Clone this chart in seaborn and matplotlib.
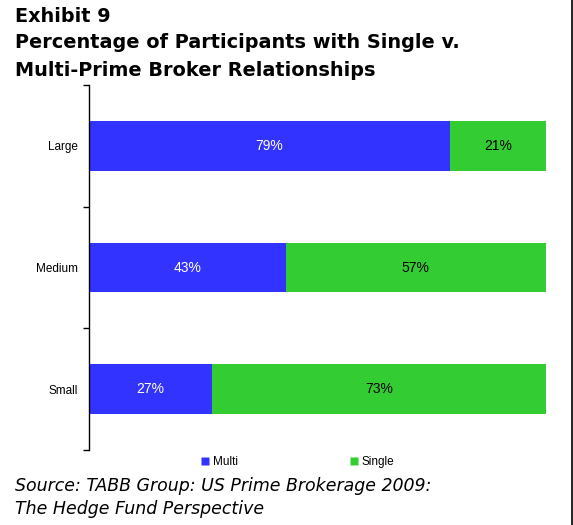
import matplotlib
matplotlib.use("Agg")
import matplotlib.pyplot as plt
from matplotlib.lines import Line2D
from matplotlib.ticker import FixedLocator
import seaborn as sns
import pandas as pd

categories = ["Large", "Medium", "Small"]
multi = [79, 43, 27]
single = [21, 57, 73]

sns.set_theme(style="white")
plt.rcParams["font.family"] = ["DejaVu Sans"]
plt.rcParams["text.color"] = "black"
plt.rcParams["ytick.labelcolor"] = "black"
plt.rcParams["ytick.color"] = "black"

BLUE = "#3333FF"
GREEN = "#33CC33"

df = pd.DataFrame({"cat": categories, "multi": multi,
                   "total": [m + s for m, s in zip(multi, single)]})

fig = plt.figure(figsize=(5.73, 5.25), dpi=100)
ax = fig.add_axes([89/573, 1 - 450/525, (546-89)/573, (450-85)/525])

sns.barplot(data=df, y="cat", x="total", color=GREEN, orient="h", width=0.41,
            ax=ax, saturation=1, edgecolor="none")
sns.barplot(data=df, y="cat", x="multi", color=BLUE, orient="h", width=0.41,
            ax=ax, saturation=1, edgecolor="none")

for i, (m, s) in enumerate(zip(multi, single)):
    ax.text(m / 2, i, f"{m}%", ha="center", va="center", color="white",
            fontsize=10, family="Liberation Sans")
    ax.text(m + s / 2, i, f"{s}%", ha="center", va="center", color="black",
            fontsize=10, family="Liberation Sans")

ax.set_xlim(0, 100)
ax.set_ylim(2.5, -0.5)
ax.set_xlabel("")
ax.set_ylabel("")
ax.set_xticks([])
for sp in ["top", "right", "bottom"]:
    ax.spines[sp].set_visible(False)
ax.spines["left"].set_color("black")
ax.spines["left"].set_linewidth(1)
ax.set_yticks(range(len(categories)))
ax.set_yticklabels(categories, fontsize=8.5, family="Liberation Sans",
                   color="black")
ax.yaxis.set_minor_locator(FixedLocator([-0.5, 0.5, 1.5, 2.5]))
ax.tick_params(axis="y", which="major", length=0, pad=8)
ax.tick_params(axis="y", which="minor", length=4, width=1, color="black",
               direction="out", left=True)
ax.set_facecolor("white")

handles = [Line2D([], [], marker="s", linestyle="none", markersize=6,
                  markerfacecolor=BLUE, markeredgecolor="none"),
           Line2D([], [], marker="s", linestyle="none", markersize=6,
                  markerfacecolor=GREEN, markeredgecolor="none")]
leg = fig.legend(handles, ["Multi", "Single"], loc="center",
                 bbox_to_anchor=(298/573, 1 - 462/525), ncol=2, frameon=False,
                 handlelength=0.6, handletextpad=0.3, columnspacing=9.6,
                 prop={"family": "Liberation Sans", "size": 8.5})
for t in leg.get_texts():
    t.set_color("black")

fig.text(15/573, 1 - 17/525, "Exhibit 9", fontsize=13.9, fontweight="bold",
         va="center", ha="left", color="black")
fig.text(15/573, 1 - 43/525, "Percentage of Participants with Single v.",
         fontsize=13.9, fontweight="bold", va="center", ha="left", color="black")
fig.text(15/573, 1 - 70/525, "Multi-Prime Broker Relationships",
         fontsize=13.9, fontweight="bold", va="center", ha="left", color="black")
fig.text(15/573, 1 - 486/525, "Source: TABB Group: US Prime Brokerage 2009:",
         fontsize=12.5, style="italic", va="center", ha="left", color="black")
fig.text(15/573, 1 - 509/525, "The Hedge Fund Perspective",
         fontsize=12.5, style="italic", va="center", ha="left", color="black")

fig.add_artist(Line2D([571.5/573, 571.5/573], [0, 1], color="black",
                      linewidth=1.2, transform=fig.transFigure))

fig.savefig("out.png", dpi=100, facecolor="white")
